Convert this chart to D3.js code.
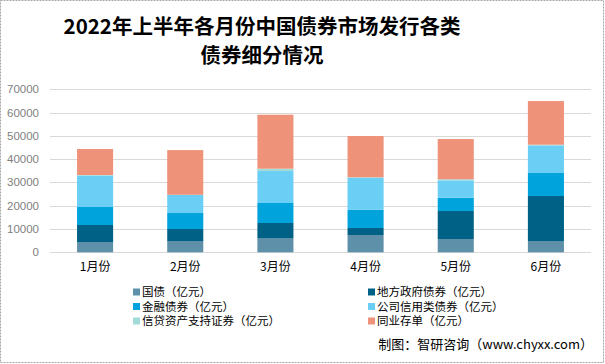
<!DOCTYPE html>
<html>
<head>
<meta charset="utf-8">
<script src="https://cdn.jsdelivr.net/npm/d3@7"></script>
<style>
  html, body { margin: 0; padding: 0; background: #fff; }
  svg { display: block; font-family: "Noto Sans CJK SC", "Microsoft YaHei", sans-serif; }
</style>
</head>
<body>
<svg id="chart" width="605" height="364"></svg>
<script>
// chart data (亿元)
const months = ['1月份', '2月份', '3月份', '4月份', '5月份', '6月份'];
const seriesNames = ['国债（亿元）', '地方政府债券（亿元）', '金融债券（亿元）',
                     '公司信用类债券（亿元）', '信贷资产支持证券（亿元）', '同业存单（亿元）'];
const guozhai   = [4420, 4850, 6140, 7430, 5710, 4850];
const difang    = [7300, 5150, 6440, 3000, 12020, 19320];
const jinrong   = [7730, 6870, 8590, 7870, 5720, 9880];
const gongsi    = [13450, 7730, 13730, 13730, 7450, 11890];
const xindai    = [300, 100, 1000, 170, 450, 260];
const tongye    = [11150, 19200, 23180, 17740, 17300, 18760];
const yTicks = [0, 10000, 20000, 30000, 40000, 50000, 60000, 70000];

const colors = ['#5e91a9', '#006186', '#00a3db', '#6bcef5', '#a2dcd9', '#ee937a'];

const allSeries = [guozhai, difang, jinrong, gongsi, xindai, tongye];
const table = months.map((m, i) => {
    const row = { month: m };
    allSeries.forEach((s, k) => row['s' + k] = s[i]);
    return row;
});
const keys = allSeries.map((s, k) => 's' + k);
const stacked = d3.stack().keys(keys)(table);

const svg = d3.select('#chart');

// outer dashed border
svg.append('rect')
    .attr('x', 0.5).attr('y', 0.5)
    .attr('width', 603).attr('height', 362)
    .attr('fill', 'none')
    .attr('stroke', '#a6a6a6')
    .attr('stroke-dasharray', '2,1');

// title (centred a bit left of the middle, like the original)
const title = svg.append('text')
    .attr('text-anchor', 'middle')
    .style('font-size', '20.5px')
    .style('font-weight', 'bold')
    .style('fill', '#000');
title.append('tspan').attr('x', 262).attr('y', 34).text('2022年上半年各月份中国债券市场发行各类');
title.append('tspan').attr('x', 262).attr('y', 63).text('债券细分情况');

const margin = { left: 50, right: 591, top: 89.3, bottom: 252.3 };

const x = d3.scaleBand()
    .domain(months)
    .range([margin.left, margin.right])
    .paddingInner(0.6)
    .paddingOuter(0.3);

const y = d3.scaleLinear()
    .domain([0, 70000])
    .range([margin.bottom, margin.top]);

// gridlines
svg.append('g')
    .selectAll('line')
    .data(yTicks)
    .enter()
    .append('line')
    .attr('x1', margin.left)
    .attr('x2', margin.right)
    .attr('y1', d => Math.round(y(d)) + 0.5)
    .attr('y2', d => Math.round(y(d)) + 0.5)
    .attr('stroke', '#d9d9d9')
    .attr('stroke-width', 1);

// y tick labels
svg.append('g')
    .selectAll('text')
    .data(yTicks)
    .enter()
    .append('text')
    .attr('x', 39)
    .attr('y', d => y(d) + 4)
    .attr('text-anchor', 'end')
    .style('font-family', '"Liberation Sans", Arial, sans-serif')
    .style('font-size', '11.5px')
    .style('fill', '#7f7f7f')
    .text(d => d);

// stacked bars
svg.append('g')
    .selectAll('g')
    .data(stacked)
    .enter()
    .append('g')
    .attr('fill', (d, i) => colors[i])
    .selectAll('rect')
    .data(d => d)
    .enter()
    .append('rect')
    .attr('x', d => x(d.data.month))
    .attr('width', x.bandwidth())
    .attr('y', d => y(d[1]))
    .attr('height', d => y(d[0]) - y(d[1]));

// x labels
svg.append('g')
    .selectAll('text')
    .data(months)
    .enter()
    .append('text')
    .attr('x', d => x(d) + x.bandwidth() / 2)
    .attr('y', 271)
    .attr('text-anchor', 'middle')
    .style('font-size', '12px')
    .style('fill', '#000')
    .text(d => d);

// legend, two columns
const legend = svg.append('g')
    .selectAll('g')
    .data(seriesNames)
    .enter()
    .append('g')
    .attr('transform', (d, i) => `translate(${i % 2 === 0 ? 133 : 368}, ${292 + Math.floor(i / 2) * 14.5})`);

legend.append('rect')
    .attr('x', 0).attr('y', -3.5)
    .attr('width', 7).attr('height', 7)
    .attr('fill', (d, i) => colors[i]);

legend.append('text')
    .attr('x', 9)
    .attr('y', 4.2)
    .style('font-size', '11.5px')
    .style('fill', '#000')
    .text(d => d);

// source
svg.append('text')
    .attr('x', 593)
    .attr('y', 349)
    .attr('text-anchor', 'end')
    .style('font-size', '13px')
    .style('fill', '#000')
    .text('制图：智研咨询（www.chyxx.com）');
</script>
</body>
</html>
